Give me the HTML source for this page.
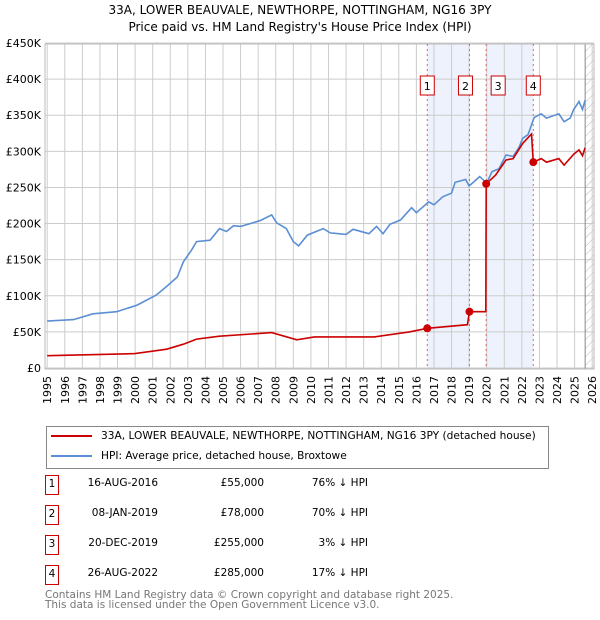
<!DOCTYPE html>
<html><head><meta charset="utf-8"><style>
body{margin:0;background:#fff;font-family:"DejaVu Sans","Liberation Sans",sans-serif;}
#wrap{position:relative;width:600px;height:620px;}
.t{position:absolute;font-size:12px;color:#000;}
</style></head><body><div id="wrap">
<div class="t" style="left:0;width:600px;top:2px;text-align:center;font-size:12px;line-height:17px">33A, LOWER BEAUVALE, NEWTHORPE, NOTTINGHAM, NG16 3PY<br>Price paid vs. HM Land Registry's House Price Index (HPI)</div>
<svg id="chart" width="600" height="420" style="position:absolute;left:0;top:0;font-family:'DejaVu Sans','Liberation Sans',sans-serif"></svg>
<div style="position:absolute;left:46px;top:426px;width:501px;height:41px;border:1px solid #888;font-size:10.6px">
 <div style="position:absolute;left:4px;top:3px;white-space:nowrap"><span style="display:inline-block;width:41px;border-top:2px solid #cc0000;vertical-align:middle;margin-right:9px"></span>33A, LOWER BEAUVALE, NEWTHORPE, NOTTINGHAM, NG16 3PY (detached house)</div>
 <div style="position:absolute;left:4px;top:23px;white-space:nowrap"><span style="display:inline-block;width:41px;border-top:2px solid #5b8fd4;vertical-align:middle;margin-right:9px"></span>HPI: Average price, detached house, Broxtowe</div>
</div>
<div id="table"></div>
<div style="position:absolute;left:45px;top:590px;font-size:10.5px;color:#777;line-height:10px">Contains HM Land Registry data © Crown copyright and database right 2025.<br>This data is licensed under the Open Government Licence v3.0.</div>
</div>
<script>
const hpiYears=[1995,1996.5,1997.6,1998.95,2000.1,2001.2,2001.8,2002.4,2002.75,2003.2,2003.5,2004.26,2004.8,2005.2,2005.6,2006,2007.1,2007.77,2008.05,2008.6,2009,2009.3,2009.8,2010.7,2011.1,2012,2012.4,2013.3,2013.74,2014.1,2014.5,2015.1,2015.73,2016,2016.7,2017,2017.5,2018,2018.2,2018.8,2019,2019.6,2020,2020.3,2020.7,2021.1,2021.5,2021.85,2022.05,2022.35,2022.7,2023.1,2023.4,2024.1,2024.4,2024.75,2024.95,2025.25,2025.45,2025.6];
const hpiVals=[65,67,75,78,87,101,113,126,147,163,175,177,193,189,197,196,204,212,201,193,175,169,184,193,187,185,192,186,196,186,199,205,222,215,230,226,237,242,257,261,252,265,256,272,276,295,293,306,318,323,347,352,346,352,341,346,358,369,358,371];
const redYears=[1995,2000,2001.8,2002.75,2003.5,2004.8,2007.77,2009.2,2010.2,2013.6,2015.6,2016.62,2018.9,2019.02,2019.95,2019.97,2020.5,2021.1,2021.5,2022.05,2022.55,2022.65,2023.1,2023.4,2024.1,2024.4,2024.95,2025.25,2025.45,2025.6];
const redVals=[17,20,26,33,40,44,49,39,43,43,50,55,60,78,78,255,267,288,290,311,324,285,290,285,290,281,296,302,294,305];
const saleYears=[2016.62,2019.02,2019.97,2022.65];
const saleVals=[55,78,255,285];
const saleLabels=["1","2","3","4"];
const yTicks=[0,50,100,150,200,250,300,350,400,450];
const yTickLabels=["£0","£50K","£100K","£150K","£200K","£250K","£300K","£350K","£400K","£450K"];
const xTicks=[1995,1996,1997,1998,1999,2000,2001,2002,2003,2004,2005,2006,2007,2008,2009,2010,2011,2012,2013,2014,2015,2016,2017,2018,2019,2020,2021,2022,2023,2024,2025,2026];
const tDates=["16-AUG-2016","08-JAN-2019","20-DEC-2019","26-AUG-2022"];
const tPrices=["£55,000","£78,000","£255,000","£285,000"];
const tHpi=["76% ↓ HPI","70% ↓ HPI","3% ↓ HPI","17% ↓ HPI"];

const L=45,R=594,T=44,B=369;
const x=y=>47.2+(y-1995)*17.58;
const yv=v=>368-v*0.7222;
const svg=document.getElementById('chart');const NS="http://www.w3.org/2000/svg";
function mk(tag,a,p){const e=document.createElementNS(NS,tag);for(const k in a)e.setAttribute(k,a[k]);(p||svg).appendChild(e);return e;}
const defs=mk('defs',{});
const pat=mk('pattern',{id:'hatch',width:6,height:6,patternUnits:'userSpaceOnUse',patternTransform:'rotate(45)'},defs);
mk('line',{x1:0,y1:0,x2:0,y2:6,stroke:'#bbb','stroke-width':1},pat);
let s1=mk('rect',{x:x(saleYears[0]),y:T,width:x(saleYears[1])-x(saleYears[0]),height:B-T,fill:'#edf2fc'});


let s2=mk('rect',{x:x(saleYears[2]),y:T,width:x(saleYears[3])-x(saleYears[2]),height:B-T,fill:'#edf2fc'});


let hx=x(2025.6);
let h=mk('rect',{x:hx,y:T,width:R-hx,height:B-T,fill:'url(#hatch)'});


xTicks.forEach(t=>{mk('line',{x1:x(t),x2:x(t),y1:T,y2:B,stroke:'#ccc','stroke-width':1});
 let tx=mk('text',{x:0,y:0,'text-anchor':'end','font-size':11,fill:'#000',transform:`translate(${(x(t)+4).toFixed(1)},${B+7}) rotate(-90)`});tx.textContent=t;
 
 });
yTicks.forEach((t,i)=>{mk('line',{x1:L,x2:R,y1:yv(t),y2:yv(t),stroke:'#ccc','stroke-width':1});
 let tx=mk('text',{x:L-4,y:yv(t)+4,'text-anchor':'end','font-size':11,fill:'#000'});tx.textContent=yTickLabels[i];
 
 });
mk('line',{x1:hx,x2:hx,y1:T,y2:B,stroke:'#888','stroke-width':1});
mk('rect',{x:L,y:T,width:R-L,height:B-T,fill:'none',stroke:'#bbb'});
saleYears.forEach((s,i)=>{mk('line',{x1:x(s),x2:x(s),y1:T,y2:B,stroke:'#e06666','stroke-width':1,'stroke-dasharray':'2,3'});
 let g=mk('g',{});
 
 
 let bx=x(s)+(i==1?-4:i==2?12:0);
 mk('rect',{x:bx-7,y:76,width:14,height:19,fill:'#fff',stroke:'#cc0000'},g);
 let tt=mk('text',{x:bx,y:90,'text-anchor':'middle','font-size':11},g);tt.textContent=saleLabels[i];});
function path(xs,vs,col,name){let d=xs.map((t,i)=>(i?'L':'M')+x(t).toFixed(1)+','+yv(vs[i]).toFixed(1)).join('');
 let p=mk('path',{d:d,fill:'none',stroke:col,'stroke-width':1.6});
 
 }
path(hpiYears,hpiVals,'#5b8fd4','hpi-line');
path(redYears,redVals,'#cc0000','price-paid-line');
saleYears.forEach((s,i)=>{let c=mk('circle',{cx:x(s),cy:yv(saleVals[i]),r:4,fill:'#cc0000'});
 
 });
const tb=document.getElementById('table');
saleLabels.forEach((l,i)=>{const top=475+i*30;
 tb.insertAdjacentHTML('beforeend',`<div style="position:absolute;left:0;top:${top}px;width:600px;height:20px;font-size:10.5px">
 <div style="position:absolute;left:45px;top:0;width:12px;height:18px;border:1px solid #cc0000;text-align:center;line-height:17px">${l}</div>
 <div style="position:absolute;left:60px;width:98px;top:2px;text-align:right">${tDates[i]}</div>
 <div style="position:absolute;left:180px;width:84px;top:2px;text-align:right">${tPrices[i]}</div>
 <div style="position:absolute;left:280px;width:88px;top:2px;text-align:right">${tHpi[i]}</div></div>`);});
</script></body></html>
